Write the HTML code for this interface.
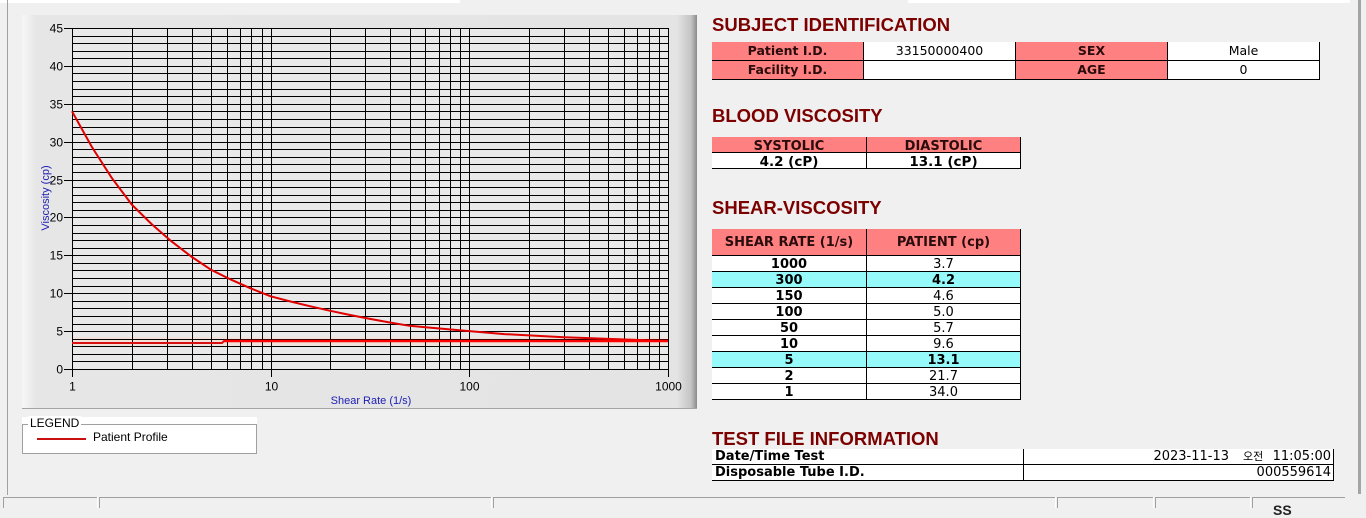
<!DOCTYPE html>
<html><head><meta charset="utf-8"><style>
html,body{margin:0;padding:0;}
body{width:1366px;height:508px;overflow:hidden;background:#f0f0f0;position:relative;font-family:"Liberation Sans",sans-serif;}
.a{position:absolute;}
.h{position:absolute;left:712px;font:bold 18.5px/18.5px "Liberation Sans",sans-serif;color:#7c0000;white-space:nowrap;}
.t{position:absolute;font-family:"DejaVu Sans","Liberation Sans","Noto Sans CJK KR",sans-serif;white-space:nowrap;text-align:center;color:#000;}
.b{font-weight:bold;}
.p{background:#ff8080;color:#2a0c0c;}
.w{background:#fff;}
.cy{background:#96fafa;}
.k{background:#000;position:absolute;}
.g{background:#a0a0a0;position:absolute;}
.s1{font-size:12.5px;height:18px;line-height:18px;}
.s2{font-size:13px;height:15px;line-height:19px;}
.s3{font-size:13px;height:15px;line-height:18px;}
</style></head><body>

<!-- frame elements -->
<div class="a" style="left:0;top:0;width:460px;height:3px;background:#fff"></div>
<div class="a" style="left:908px;top:0;width:442px;height:3px;background:#fff"></div>
<div class="g" style="left:7px;top:0;width:1px;height:495px;"></div>
<div class="a" style="left:1358px;top:0;width:3px;height:494px;background:#a4a4a4"></div>

<!-- chart panel -->
<div class="a" style="left:22px;top:15px;width:675px;height:393px;background:linear-gradient(to right,#f7f7f7 0px,#e6e6e6 14px,#e4e4e4 655px,#c4c4c4 669px,#8a8a8a 675px);border-bottom:1px solid #a4a4a4"></div>

<svg class="a" style="left:0;top:0" width="700" height="420" shape-rendering="crispEdges">
<rect x="72" y="28" width="597" height="342" fill="#e9e9e9"/>
<rect x="72" y="337" width="597" height="10" fill="#f0e2db"/>
<path fill="none" stroke="#000" stroke-width="1" d="
M72 28.5H669M72 36.5H669M72 43.5H669M72 51.5H669M72 58.5H669M72 66.5H669M72 73.5H669M72 81.5H669M72 89.5H669M72 96.5H669
M72 104.5H669M72 111.5H669M72 119.5H669M72 127.5H669M72 134.5H669M72 142.5H669M72 149.5H669M72 157.5H669M72 164.5H669M72 172.5H669
M72 180.5H669M72 187.5H669M72 195.5H669M72 202.5H669M72 210.5H669M72 217.5H669M72 225.5H669M72 233.5H669M72 240.5H669M72 248.5H669
M72 255.5H669M72 263.5H669M72 270.5H669M72 278.5H669M72 286.5H669M72 293.5H669M72 301.5H669M72 308.5H669M72 316.5H669M72 324.5H669
M72 331.5H669M72 339.5H669M72 346.5H669M72 354.5H669M72 361.5H669M72 369.5H669
M72.5 28V370M132.5 28V370M167.5 28V370M192.5 28V370M211.5 28V370M227.5 28V370M240.5 28V370M251.5 28V370M262.5 28V370
M271.5 28V370M330.5 28V370M365.5 28V370M390.5 28V370M410.5 28V370M425.5 28V370M439.5 28V370M450.5 28V370M460.5 28V370
M469.5 28V370M529.5 28V370M564.5 28V370M589.5 28V370M608.5 28V370M624.5 28V370M637.5 28V370M649.5 28V370M659.5 28V370M668.5 28V370
M64 28.5H72M64 66.5H72M64 104.5H72M64 142.5H72M64 180.5H72M64 217.5H72M64 255.5H72M64 293.5H72M64 331.5H72M64 369.5H72
M72.5 369V377M271.5 369V377M469.5 369V377M668.5 369V377"/>
<g font-family="Liberation Sans, sans-serif" font-size="12" fill="#000" text-anchor="end">
<text x="63" y="32.5">45</text>
<text x="63" y="70.5">40</text>
<text x="63" y="108.5">35</text>
<text x="63" y="146.5">30</text>
<text x="63" y="184.5">25</text>
<text x="63" y="221.5">20</text>
<text x="63" y="259.5">15</text>
<text x="63" y="297.5">10</text>
<text x="63" y="335.5">5</text>
<text x="63" y="373.5">0</text>
</g>
<g font-family="Liberation Sans, sans-serif" font-size="12" fill="#000" text-anchor="middle">
<text x="72.5" y="390.5">1</text>
<text x="271.5" y="390.5">10</text>
<text x="469.5" y="390.5">100</text>
<text x="668.5" y="390.5">1000</text>
</g>
<text x="371" y="404" font-family="Liberation Sans, sans-serif" font-size="11" fill="#1c1cb4" text-anchor="middle">Shear Rate (1/s)</text>
<text transform="translate(49,198) rotate(-90)" font-family="Liberation Sans, sans-serif" font-size="11" fill="#1c1cb4" text-anchor="middle">Viscosity (cp)</text>
<g shape-rendering="auto" fill="none" stroke-linejoin="round">
<polyline stroke="#d81010" stroke-width="2" points="72,343 222,343 224,341 668,341"/>
<polyline stroke="#e00000" stroke-width="2" points="72,111.3 91.9,147 111.7,177.8 131.8,204.6 151.5,224 171.3,241.2 191.2,256.5 210.9,269.7 230.9,279.6 250.8,288.4 270.7,296.3 290.5,301.5 310.4,306.3 330.3,310.8 350.1,315 370,318.9 389.9,322.5 409.5,325.8 429.6,327.6 449.5,329.4 469.3,331.1 504.3,334.1 528.9,335.4 564.1,337.2 588.5,338.1 628.3,339.6 668,341"/>
<line x1="224" y1="341" x2="668" y2="341" stroke="#ff0000" stroke-width="2.4"/>
</g>
</svg>

<!-- legend -->
<div class="a" style="left:22px;top:417px;width:235px;height:37px;background:#fff"></div>
<div class="a" style="left:22px;top:424px;width:233px;height:28px;border:1px solid #a0a0a0"></div>
<div class="a" style="left:28px;top:416px;height:14px;padding:0 2px;background:#fff;font:12px/14px 'Liberation Sans',sans-serif;color:#000">LEGEND</div>
<div class="a" style="left:37px;top:438px;width:49px;height:2px;background:#c81010"></div>
<div class="a" style="left:93px;top:430px;font:12px/14px 'Liberation Sans',sans-serif;color:#000;white-space:nowrap">Patient Profile</div>

<!-- headings -->
<div class="h" style="top:16px">SUBJECT IDENTIFICATION</div>
<div class="h" style="top:107px">BLOOD VISCOSITY</div>
<div class="h" style="top:199px">SHEAR-VISCOSITY</div>
<div class="h" style="top:430px">TEST FILE INFORMATION</div>

<!-- subject table -->
<div class="t b p s1" style="left:712px;top:42px;width:151px">Patient I.D.</div>
<div class="t w s1" style="left:864px;top:42px;width:151px">33150000400</div>
<div class="t b p s1" style="left:1016px;top:42px;width:151px">SEX</div>
<div class="t w s1" style="left:1168px;top:42px;width:151px">Male</div>
<div class="t b p s1" style="left:712px;top:61px;width:151px">Facility I.D.</div>
<div class="t w s1" style="left:864px;top:61px;width:151px"></div>
<div class="t b p s1" style="left:1016px;top:61px;width:151px">AGE</div>
<div class="t w s1" style="left:1168px;top:61px;width:151px">0</div>
<div class="k" style="left:712px;top:60px;width:608px;height:1px"></div>
<div class="k" style="left:712px;top:79px;width:608px;height:1px"></div>
<div class="k" style="left:863px;top:42px;width:1px;height:38px"></div>
<div class="k" style="left:1015px;top:42px;width:1px;height:38px"></div>
<div class="k" style="left:1167px;top:42px;width:1px;height:38px"></div>
<div class="k" style="left:1319px;top:42px;width:1px;height:38px"></div>

<!-- blood viscosity table -->
<div class="t b p s2" style="left:712px;top:137px;width:154px">SYSTOLIC</div>
<div class="t b p s2" style="left:867px;top:137px;width:153px">DIASTOLIC</div>
<div class="t b w s2" style="left:712px;top:153px;width:154px;font-size:13.5px">4.2 (cP)</div>
<div class="t b w s2" style="left:867px;top:153px;width:153px;font-size:13.5px">13.1 (cP)</div>
<div class="k" style="left:712px;top:152px;width:309px;height:1px"></div>
<div class="k" style="left:712px;top:168px;width:309px;height:1px"></div>
<div class="k" style="left:866px;top:137px;width:1px;height:32px"></div>
<div class="k" style="left:1020px;top:137px;width:1px;height:32px"></div>

<!-- shear viscosity table -->
<div class="t b p" style="left:712px;top:229px;width:154px;height:26px;line-height:27px;font-size:13px">SHEAR RATE (1/s)</div>
<div class="t b p" style="left:867px;top:229px;width:153px;height:26px;line-height:27px;font-size:13px">PATIENT (cp)</div>

<div class="t b w s3" style="left:712px;top:256px;width:154px">1000</div>
<div class="t w s3" style="left:867px;top:256px;width:153px">3.7</div>
<div class="t b cy s3" style="left:712px;top:272px;width:154px">300</div>
<div class="t b cy s3" style="left:867px;top:272px;width:153px">4.2</div>
<div class="t b w s3" style="left:712px;top:288px;width:154px">150</div>
<div class="t w s3" style="left:867px;top:288px;width:153px">4.6</div>
<div class="t b w s3" style="left:712px;top:304px;width:154px">100</div>
<div class="t w s3" style="left:867px;top:304px;width:153px">5.0</div>
<div class="t b w s3" style="left:712px;top:320px;width:154px">50</div>
<div class="t w s3" style="left:867px;top:320px;width:153px">5.7</div>
<div class="t b w s3" style="left:712px;top:336px;width:154px">10</div>
<div class="t w s3" style="left:867px;top:336px;width:153px">9.6</div>
<div class="t b cy s3" style="left:712px;top:352px;width:154px">5</div>
<div class="t b cy s3" style="left:867px;top:352px;width:153px">13.1</div>
<div class="t b w s3" style="left:712px;top:368px;width:154px">2</div>
<div class="t w s3" style="left:867px;top:368px;width:153px">21.7</div>
<div class="t b w s3" style="left:712px;top:384px;width:154px">1</div>
<div class="t w s3" style="left:867px;top:384px;width:153px">34.0</div>

<div class="k" style="left:712px;top:255px;width:309px;height:1px"></div>
<div class="k" style="left:712px;top:271px;width:309px;height:1px"></div>
<div class="k" style="left:712px;top:287px;width:309px;height:1px"></div>
<div class="k" style="left:712px;top:303px;width:309px;height:1px"></div>
<div class="k" style="left:712px;top:319px;width:309px;height:1px"></div>
<div class="k" style="left:712px;top:335px;width:309px;height:1px"></div>
<div class="k" style="left:712px;top:351px;width:309px;height:1px"></div>
<div class="k" style="left:712px;top:367px;width:309px;height:1px"></div>
<div class="k" style="left:712px;top:383px;width:309px;height:1px"></div>
<div class="k" style="left:712px;top:399px;width:309px;height:1px"></div>
<div class="k" style="left:866px;top:229px;width:1px;height:171px"></div>
<div class="k" style="left:1020px;top:229px;width:1px;height:171px"></div>

<!-- test file info table -->
<div class="a w" style="left:712px;top:449px;width:621px;height:31px"></div>
<div class="t b" style="left:715px;top:449px;height:15px;line-height:16px;font-size:13px;text-align:left">Date/Time Test</div>
<div class="t b" style="left:715px;top:465px;height:15px;line-height:16px;font-size:13px;text-align:left">Disposable Tube I.D.</div>
<div class="t" style="right:137px;top:449px;height:15px;line-height:16px;font-size:13px;text-align:right">2023-11-13</div>
<div class="t" style="left:1243px;top:449px;height:15px;line-height:15px;font-size:11px;font-family:'Noto Sans CJK KR','NanumGothic',sans-serif">오전</div>
<div class="t" style="right:35px;top:449px;height:15px;line-height:16px;font-size:13px;text-align:right">11:05:00</div>
<div class="t" style="right:35px;top:465px;height:15px;line-height:16px;font-size:13px;text-align:right">000559614</div>
<div class="k" style="left:712px;top:464px;width:622px;height:1px"></div>
<div class="k" style="left:712px;top:480px;width:622px;height:1px"></div>
<div class="k" style="left:1023px;top:449px;width:1px;height:32px"></div>
<div class="k" style="left:1333px;top:449px;width:1px;height:32px"></div>

<!-- status bar -->
<div class="g" style="left:3px;top:497px;width:94px;height:1px"></div>
<div class="g" style="left:99px;top:497px;width:392px;height:1px"></div>
<div class="g" style="left:493px;top:497px;width:562px;height:1px"></div>
<div class="g" style="left:1057px;top:497px;width:96px;height:1px"></div>
<div class="g" style="left:1155px;top:497px;width:95px;height:1px"></div>
<div class="g" style="left:1252px;top:497px;width:93px;height:1px"></div>
<div class="g" style="left:3px;top:497px;width:1px;height:11px"></div>
<div class="g" style="left:99px;top:497px;width:1px;height:11px"></div>
<div class="g" style="left:493px;top:497px;width:1px;height:11px"></div>
<div class="g" style="left:1057px;top:497px;width:1px;height:11px"></div>
<div class="g" style="left:1155px;top:497px;width:1px;height:11px"></div>
<div class="g" style="left:1252px;top:497px;width:1px;height:11px"></div>
<div class="a" style="left:97px;top:497px;width:1px;height:11px;background:#fff"></div>
<div class="a" style="left:491px;top:497px;width:1px;height:11px;background:#fff"></div>
<div class="a" style="left:1055px;top:497px;width:1px;height:11px;background:#fff"></div>
<div class="a" style="left:1153px;top:497px;width:1px;height:11px;background:#fff"></div>
<div class="a" style="left:1250px;top:497px;width:1px;height:11px;background:#fff"></div>
<div class="a" style="left:1273px;top:503px;font:bold 14px/14px 'Liberation Sans',sans-serif;color:#222">SS</div>

</body></html>
